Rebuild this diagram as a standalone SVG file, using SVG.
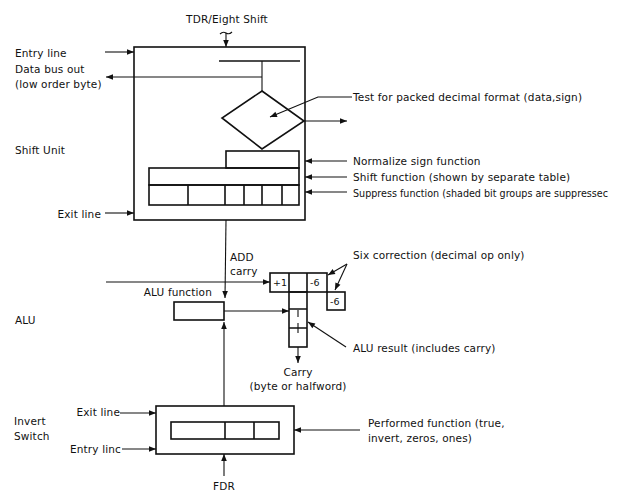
<svg xmlns="http://www.w3.org/2000/svg" width="621" height="496" viewBox="0 0 621 496">
<style>
text{font-family:"DejaVu Sans","Liberation Sans",Arial,sans-serif;font-size:10.5px;fill:#111;letter-spacing:0.15px}
.b{fill:none;stroke:#111;stroke-width:1.6}
.l{fill:none;stroke:#111;stroke-width:1.1}
.m{text-anchor:middle}
.e{text-anchor:end}
.s{font-size:9.5px;letter-spacing:0}
.n{font-size:10px;letter-spacing:0}
</style>
<defs>
<marker id="ah" viewBox="0 0 10 10" refX="10" refY="5" markerWidth="8" markerHeight="7" markerUnits="userSpaceOnUse" orient="auto">
<path d="M0,1 L10,5 L0,9 Z" fill="#111"/>
</marker>
</defs>
<rect width="621" height="496" fill="#fff"/>

<g id="labels">
<text x="15" y="154">Shift Unit</text>
<text x="15" y="324">ALU</text>
<text x="14" y="425">Invert</text>
<text x="14" y="440">Switch</text>
</g>

<g id="shift-unit">
<rect class="b" x="134" y="47" width="171" height="173"/>
<line class="b" x1="219" y1="61" x2="300" y2="61"/>
<line class="l" x1="262" y1="61" x2="262" y2="91"/>
<polygon class="b" points="262,91 304,121 262,149 222,118"/>
<rect class="b" x="226" y="151" width="73" height="17"/>
<rect class="b" x="149" y="168" width="150" height="17"/>
<rect class="b" x="149" y="185" width="150" height="20"/>
<path class="b" d="M188,185V205M225,185V205M244,185V205M262,185V205M282,185V205"/>
</g>

<g id="alu">
<rect class="b" x="174" y="302" width="50" height="18"/>
<rect class="b" x="270" y="273" width="57" height="19"/>
<path class="b" d="M289,273V292M307,273V292"/>
<text class="s" x="273" y="286">+1</text>
<text class="s" x="310" y="286">-6</text>
<rect class="b" x="327" y="292" width="18" height="18"/>
<text class="s" x="330" y="305">-6</text>
<rect class="b" x="289" y="292" width="18" height="55"/>
<path class="b" d="M289,309H307M289,328H307"/>
<path class="l" d="M298,310V317M298,323V333"/>
</g>

<g id="invert-switch">
<rect class="b" x="156" y="406" width="138" height="48"/>
<rect class="b" x="171" y="422" width="108" height="17"/>
<path class="b" d="M225,422V439M254,422V439"/>
</g>

<g id="connectors">
<path class="l" d="M220,34 Q223,31 226,33 Q229,35 232,32"/>
<line class="l" x1="226" y1="33" x2="226" y2="47" marker-end="url(#ah)"/>
<line class="l" x1="105" y1="52" x2="134" y2="52" marker-end="url(#ah)"/>
<line class="l" x1="262" y1="77" x2="106" y2="77" marker-end="url(#ah)"/>
<path class="l" d="M352,97H318L270,117" marker-end="url(#ah)"/>
<line class="l" x1="304" y1="121" x2="347" y2="121" marker-end="url(#ah)"/>
<line class="l" x1="347" y1="161" x2="305" y2="161" marker-end="url(#ah)"/>
<line class="l" x1="347" y1="177" x2="305" y2="177" marker-end="url(#ah)"/>
<line class="l" x1="347" y1="192" x2="305" y2="192" marker-end="url(#ah)"/>
<line class="l" x1="105" y1="213" x2="134" y2="213" marker-end="url(#ah)"/>
<line class="l" x1="226" y1="220" x2="225" y2="298" marker-end="url(#ah)"/>
<line class="l" x1="106" y1="282" x2="270" y2="282" marker-end="url(#ah)"/>
<line class="l" x1="224" y1="311" x2="289" y2="311" marker-end="url(#ah)"/>
<line class="l" x1="224" y1="406" x2="224" y2="322" marker-end="url(#ah)"/>
<line class="l" x1="298" y1="347" x2="298" y2="363" marker-end="url(#ah)"/>
<path class="l" d="M347,264L328,275" marker-end="url(#ah)"/>
<path class="l" d="M347,264L335,290" marker-end="url(#ah)"/>
<line class="l" x1="346" y1="347" x2="308" y2="322" marker-end="url(#ah)"/>
<line class="l" x1="120" y1="413" x2="156" y2="413" marker-end="url(#ah)"/>
<line class="l" x1="122" y1="449" x2="156" y2="449" marker-end="url(#ah)"/>
<line class="l" x1="360" y1="430" x2="294" y2="430" marker-end="url(#ah)"/>
<line class="l" x1="224" y1="476" x2="224" y2="454" marker-end="url(#ah)"/>
</g>

<g id="texts">
<text class="m" x="227" y="23">TDR/Eight Shift</text>
<text x="15" y="57">Entry line</text>
<text x="15" y="73">Data bus out</text>
<text x="15" y="88">(low order byte)</text>
<text x="353" y="101">Test for packed decimal format (data,sign)</text>
<text x="353" y="165">Normalize sign function</text>
<text x="353" y="181">Shift function (shown by separate table)</text>
<text class="n" x="353" y="197" textLength="255" lengthAdjust="spacingAndGlyphs">Suppress function (shaded bit groups are suppressec</text>
<text class="e" x="101" y="218">Exit line</text>
<text x="230" y="261">ADD</text>
<text x="230" y="275">carry</text>
<text x="353" y="259">Six correction (decimal op only)</text>
<text class="e" x="212" y="296">ALU function</text>
<text x="353" y="352">ALU result (includes carry)</text>
<text class="m" x="298" y="376">Carry</text>
<text class="m" x="298" y="390">(byte or halfword)</text>
<text class="e" x="120" y="416">Exit line</text>
<text class="e" x="121" y="453">Entry linc</text>
<text x="368" y="427">Performed function (true,</text>
<text x="368" y="442">invert, zeros, ones)</text>
<text class="m" x="224" y="490">FDR</text>
</g>
</svg>
